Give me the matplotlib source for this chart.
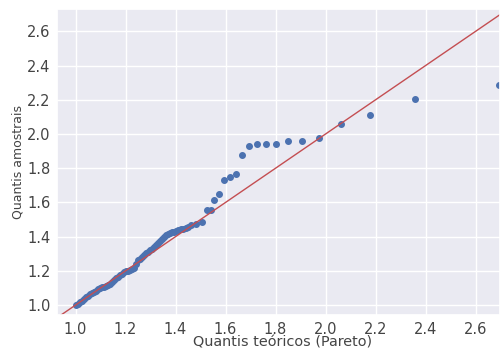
import matplotlib
matplotlib.use("Agg")
import matplotlib.pyplot as plt
import seaborn as sns

# Pareto QQ plot: theoretical vs sample quantiles
teoricos = [
    1.000, 1.008, 1.016, 1.024, 1.032, 1.040, 1.048, 1.056, 1.064, 1.072,
    1.080, 1.088, 1.096, 1.104, 1.112, 1.120, 1.128, 1.136, 1.144, 1.152,
    1.160, 1.168, 1.176, 1.184, 1.192, 1.200, 1.208, 1.216, 1.224, 1.232,
    1.240, 1.248, 1.256, 1.264, 1.272, 1.280, 1.288, 1.296, 1.304, 1.312,
    1.320, 1.328, 1.336, 1.344, 1.352, 1.360, 1.368, 1.376, 1.384, 1.392,
    1.400, 1.410, 1.420, 1.430, 1.440, 1.450, 1.463, 1.483, 1.505, 1.525,
    1.541, 1.555, 1.575, 1.593, 1.617, 1.641, 1.665, 1.694, 1.726, 1.762,
    1.803, 1.849, 1.905, 1.975, 2.061, 2.179, 2.358, 2.694,
]
amostrais = [
    1.000, 1.008, 1.017, 1.026, 1.035, 1.045, 1.054, 1.062, 1.070, 1.077,
    1.084, 1.092, 1.099, 1.104, 1.108, 1.113, 1.118, 1.125, 1.134, 1.145,
    1.156, 1.166, 1.176, 1.184, 1.192, 1.198, 1.202, 1.205, 1.208, 1.215,
    1.240, 1.262, 1.272, 1.280, 1.290, 1.302, 1.312, 1.320, 1.330, 1.340,
    1.350, 1.360, 1.372, 1.385, 1.396, 1.408, 1.418, 1.424, 1.428, 1.430,
    1.433, 1.440, 1.444, 1.447, 1.450, 1.454, 1.470, 1.476, 1.485, 1.554,
    1.554, 1.617, 1.651, 1.731, 1.749, 1.764, 1.877, 1.928, 1.943, 1.943,
    1.943, 1.959, 1.959, 1.977, 2.060, 2.109, 2.205, 2.287,
]
xticks = [1.0, 1.2, 1.4, 1.6, 1.8, 2.0, 2.2, 2.4, 2.6]
yticks = [1.0, 1.2, 1.4, 1.6, 1.8, 2.0, 2.2, 2.4, 2.6]

sns.set_theme(style="darkgrid")
plt.rcParams["font.family"] = ["DejaVu Sans"]

fig = plt.figure(figsize=(5.0, 3.51), dpi=100)
ax = fig.add_axes([0.1146, 0.1026, 0.8854, 0.8718])

ax.plot(teoricos, amostrais, "o", color="#4C72B0", markersize=4.0,
        markeredgecolor="#4C72B0")

xmin, xmax = 0.927, 2.698
ymin, ymax = 0.942, 2.731
# 45 degree reference line
ax.plot([0.5, 3.0], [0.5, 3.0], color="#C44E52", linewidth=1.0)

ax.set_xlim(xmin, xmax)
ax.set_ylim(ymin, ymax)
ax.set_xticks(xticks)
ax.set_yticks(yticks)
ax.tick_params(labelsize=10.5, colors="#444444", length=0, pad=5)
ax.set_xlabel("Quantis teóricos (Pareto)", fontsize=10.4, color="#444444", va="center")
ax.set_ylabel("Quantis amostrais", fontsize=9.0, color="#444444", va="center")
ax.xaxis.set_label_coords(0.508, -0.0915)
ax.yaxis.set_label_coords(-0.0899, 0.5)

fig.savefig("out.png", dpi=100)
